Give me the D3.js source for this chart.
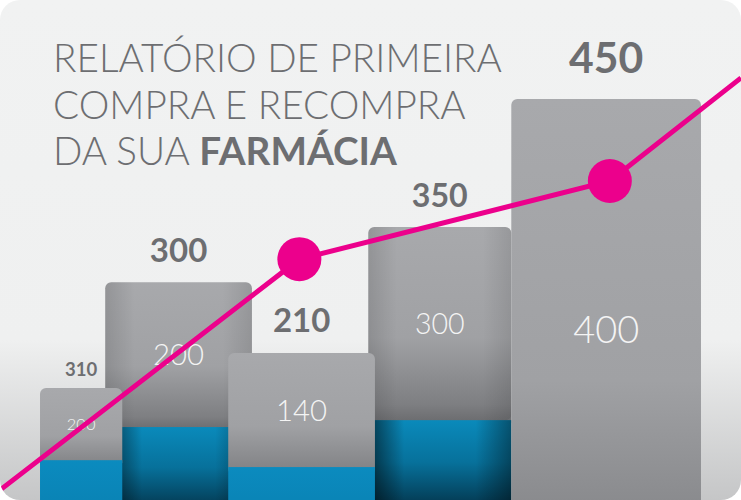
<!DOCTYPE html>
<html>
<head>
<meta charset="utf-8">
<script src="https://cdn.jsdelivr.net/npm/d3@7"></script>
<style>
  body { margin: 0; background: #fff; }
  svg { display: block; }
</style>
</head>
<body>
<svg id="chart"></svg>
<script>
// values
var totals   = [310, 300, 210, 350, 450];   // bold labels above the bars
var firstBuy = [200, 200, 140, 300, 400];   // labels inside the bars

// bar extents on the x scale (0-100 across the card)
var barStart = [5.4, 14.2, 30.8, 49.7, 69.0];
var barEnd   = [16.5, 34.0, 50.6, 69.0, 94.6];

// bar top and blue top on the y scale (0-100)
var barLevel  = [37.4, 60.4, 45.0, 72.4, 100.2];
var blueLevel = [21.7, 28.9, 20.2, 30.4, 0];

// magenta trend line
var lineX = [0, 40.4, 82.3, 100];
var lineY = [15.2, 65.4, 82.4, 104.8];
var dotIndex = [1, 2];

var titleLines = [
  [{t: "RELATÓRIO DE PRIMEIRA", b: false}],
  [{t: "COMPRA E RECOMPRA", b: false}],
  [{t: "DA SUA ", b: false}, {t: "FARMÁCIA", b: true}]
];

var width = 741, height = 500;

var svg = d3.select("#chart")
    .attr("width", width)
    .attr("height", height);

var x = d3.scaleLinear().domain([0, 100]).range([0, width]);
var y = d3.scaleLinear().domain([0, 100]).range([560, 100]);

var defs = svg.append("defs");

defs.append("clipPath").attr("id", "card")
  .append("rect")
    .attr("width", width).attr("height", height)
    .attr("rx", 20).attr("ry", 20);

function grad(id, stops, horiz) {
  var g = defs.append("linearGradient").attr("id", id)
      .attr("x1", 0).attr("y1", 0)
      .attr("x2", horiz ? 1 : 0).attr("y2", horiz ? 0 : 1);
  stops.forEach(function (s) {
    g.append("stop").attr("offset", s[0]).attr("stop-color", s[1])
      .attr("stop-opacity", s[2] == null ? 1 : s[2]);
  });
}

grad("bg", [[0, "#f1f2f2"], [0.68, "#eff0f0"], [1, "#c5c6c7"]]);
grad("grayFront", [[0, "#a8a9ac"], [0.6, "#a0a1a4"], [1, "#7e7f82"]]);
grad("grayBack", [[0, "#a8a9ac"], [0.55, "#a0a1a4"], [0.88, "#7e7f82"], [1, "#646568"]]);
grad("blueFront", [[0, "#0b8bbf"], [1, "#0879a8"]]);
grad("blueBack", [[0, "#0a8abb"], [0.3, "#07719b"], [0.57, "#043f59"], [1, "#01131b"]]);
grad("shadeBlue", [[0, "#000", 0.6], [0.25, "#000", 0], [0.75, "#000", 0], [1, "#000", 0.4]], true);
grad("shadeGray", [[0, "#000", 0.12], [0.2, "#000", 0], [0.8, "#000", 0], [1, "#000", 0.1]], true);

var main = svg.append("g").attr("clip-path", "url(#card)");

main.append("rect")
    .attr("width", width).attr("height", height)
    .attr("fill", "url(#bg)");

// title
var title = main.append("text")
    .attr("x", 53)
    .attr("fill", "#6d6e71")
    .style("font-family", "Lato, 'Open Sans', sans-serif")
    .style("font-weight", 300);

titleLines.forEach(function (line, i) {
  line.forEach(function (part, j) {
    var ts = title.append("tspan").text(part.t)
        .style("font-weight", part.b ? 700 : 300);
    if (j === 0) ts.attr("x", 53).attr("y", 72 + i * 46.5);
  });
});

// fit the first title line to its width in the picture
title.style("font-size", "35px");
var w0 = title.select("tspan").node().getComputedTextLength();
title.style("font-size", (35 * 449 / w0) + "px");

// bars: index 1 and 3 sit behind their neighbours
var bars = d3.range(totals.length).map(function (i) {
  return {
    i: i,
    x0: x(barStart[i]), x1: x(barEnd[i]),
    top: y(barLevel[i]), blue: y(blueLevel[i]),
    back: i % 2 === 1
  };
});
bars.sort(function (a, b) { return (b.back - a.back) || (a.i - b.i); });

var barG = main.selectAll("g.bar")
  .data(bars)
  .enter().append("g")
    .attr("class", "bar");

barG.append("rect")
    .attr("x", function (d) { return d.x0; })
    .attr("y", function (d) { return d.top; })
    .attr("width", function (d) { return d.x1 - d.x0; })
    .attr("height", function (d) { return d.blue - d.top + 8; })
    .attr("rx", 6).attr("ry", 6)
    .attr("fill", function (d) { return d.back ? "url(#grayBack)" : "url(#grayFront)"; });

barG.append("rect")
    .attr("x", function (d) { return d.x0; })
    .attr("y", function (d) { return d.blue; })
    .attr("width", function (d) { return d.x1 - d.x0; })
    .attr("height", function (d) { return y(0) - d.blue + 1; })
    .attr("fill", function (d) { return d.back ? "url(#blueBack)" : "url(#blueFront)"; });

var backs = barG.filter(function (d) { return d.back; });

backs.append("rect")
    .attr("x", function (d) { return d.x0; })
    .attr("y", function (d) { return d.top; })
    .attr("width", function (d) { return d.x1 - d.x0; })
    .attr("height", function (d) { return d.blue - d.top; })
    .attr("rx", 6).attr("ry", 6)
    .attr("fill", "url(#shadeGray)");

backs.append("rect")
    .attr("x", function (d) { return d.x0; })
    .attr("y", function (d) { return d.blue; })
    .attr("width", function (d) { return d.x1 - d.x0; })
    .attr("height", function (d) { return y(0) - d.blue; })
    .attr("fill", "url(#shadeBlue)");

// labels above
barG.append("text")
    .attr("x", function (d) { return (d.x0 + d.x1) / 2; })
    .attr("y", function (d) { return d.top - (d.x1 - d.x0) * 0.14; })
    .attr("text-anchor", "middle")
    .attr("fill", "#6d6e71")
    .style("font-family", "Lato, 'Open Sans', sans-serif")
    .style("font-weight", 700)
    .style("font-size", function (d) { return ((d.x1 - d.x0) * 0.225) + "px"; })
    .text(function (d) { return totals[d.i]; });

// labels inside
barG.append("text")
    .attr("x", function (d) { return (d.x0 + d.x1) / 2; })
    .attr("y", function (d) { return (d.top + d.blue) / 2; })
    .attr("dy", "0.36em")
    .attr("text-anchor", "middle")
    .attr("fill", "#f4f4f4")
    .style("font-family", "Lato, 'Open Sans', sans-serif")
    .style("font-weight", 300)
    .style("font-size", function (d) { return ((d.x1 - d.x0) * 0.2) + "px"; })
    .text(function (d) { return firstBuy[d.i]; });

// trend line
var pts = lineX.map(function (v, i) { return [v, lineY[i]]; });

var line = d3.line()
    .x(function (d) { return x(d[0]); })
    .y(function (d) { return y(d[1]); });

main.append("path")
    .datum(pts)
    .attr("d", line)
    .attr("fill", "none")
    .attr("stroke", "#ec008c")
    .attr("stroke-width", 5);

main.selectAll("circle.dot")
  .data(dotIndex.map(function (i) { return pts[i]; }))
  .enter().append("circle")
    .attr("class", "dot")
    .attr("cx", function (d) { return x(d[0]); })
    .attr("cy", function (d) { return y(d[1]); })
    .attr("r", 22)
    .attr("fill", "#ec008c");
</script>
</body>
</html>
